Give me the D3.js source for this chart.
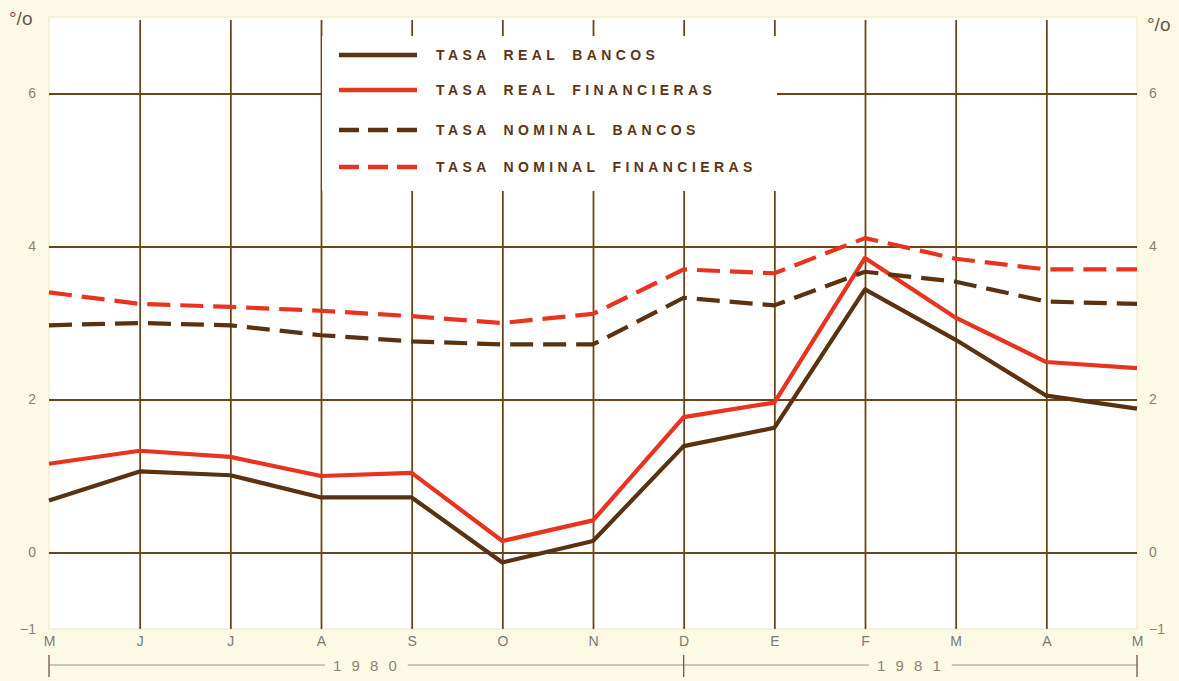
<!DOCTYPE html>
<html>
<head>
<meta charset="utf-8">
<script src="https://cdn.jsdelivr.net/npm/d3@7"></script>
<style>
  body { margin: 0; background: #fcf9e4; }
  #chart { width: 1179px; height: 681px; }
  text { font-family: "Liberation Sans", Arial, sans-serif; }
</style>
</head>
<body>
<div id="chart"></div>
<script>
//Datos (mayo 1980 - mayo 1981)
const meses = ['M', 'J', 'J', 'A', 'S', 'O', 'N', 'D', 'E', 'F', 'M', 'A', 'M'];
const realBancos = [0.68, 1.06, 1.01, 0.72, 0.72, -0.13, 0.15, 1.39, 1.63, 3.44, 2.78, 2.05, 1.88];
const realFinancieras = [1.16, 1.33, 1.25, 1.00, 1.04, 0.15, 0.42, 1.77, 1.96, 3.85, 3.07, 2.49, 2.41];
const nominalBancos = [2.97, 3.00, 2.97, 2.84, 2.76, 2.72, 2.72, 3.33, 3.23, 3.67, 3.54, 3.28, 3.25];
const nominalFinancieras = [3.40, 3.25, 3.21, 3.16, 3.09, 3.00, 3.12, 3.70, 3.65, 4.11, 3.84, 3.70, 3.70];
const yTicks = [-1, 0, 2, 4, 6];
const yGrid = [0, 2, 4, 6];
const anios = [{label: '1 9 8 0', from: 0, to: 7}, {label: '1 9 8 1', from: 7, to: 12}];

//Colores fijos
const COLOR_MARRON = '#5a3212',
COLOR_ROJO = '#e8341f',
COLOR_GRID = '#6a4518',
COLOR_TEXTO = '#8c8070';

const series = [
    {nombre: 'TASA REAL BANCOS', valores: realBancos, color: COLOR_MARRON, dash: null},
    {nombre: 'TASA REAL FINANCIERAS', valores: realFinancieras, color: COLOR_ROJO, dash: null},
    {nombre: 'TASA NOMINAL BANCOS', valores: nominalBancos, color: COLOR_MARRON, dash: '23,10'},
    {nombre: 'TASA NOMINAL FINANCIERAS', valores: nominalFinancieras, color: COLOR_ROJO, dash: '23,10'}
];

let margin = {top: 17, right: 42, bottom: 52, left: 49},
    width = 1179 - margin.left - margin.right,
    height = 681 - margin.top - margin.bottom;

let svg = d3.select('#chart')
    .append('svg')
        .attr('width', 1179)
        .attr('height', 681)
    .append('g')
        .attr('transform', 'translate(' + margin.left + ',' + margin.top + ')');

let x = d3.scaleLinear()
    .domain([0, meses.length - 1])
    .range([0, width]);

let y = d3.scaleLinear()
    .domain([-1, 7])
    .range([height, 0]);

//Fondo blanco del área
svg.append('rect')
    .attr('width', width)
    .attr('height', height)
    .attr('fill', '#ffffff')
    .attr('stroke', '#eee6c4')
    .attr('stroke-width', 1);

//Rejilla vertical
svg.append('g')
    .attr('class', 'grid-x')
    .call(d3.axisBottom(x).tickValues(d3.range(1, meses.length - 1)).tickSize(-(height - 3)).tickFormat(''))
    .attr('transform', 'translate(0,' + height + ')')
    .call(function(g){g.select('.domain').remove()})
    .call(function(g){g.selectAll('.tick line').attr('stroke', COLOR_GRID).attr('stroke-width', 1.8)});

//Rejilla horizontal
svg.append('g')
    .attr('class', 'grid-y')
    .call(d3.axisLeft(y).tickValues(yGrid).tickSize(-width).tickFormat(''))
    .call(function(g){g.select('.domain').remove()})
    .call(function(g){g.selectAll('.tick line').attr('stroke', COLOR_GRID).attr('stroke-width', 1.8)});

//Ejes Y (ambos lados)
let yAxisLeft = function(g) {
    g.call(d3.axisLeft(y).tickValues(yTicks).tickSize(0).tickPadding(13).tickFormat(function(d){ return d < 0 ? '\u2212' + Math.abs(d) : d; }));
    g.call(function(g){g.select('.domain').remove()});
    g.selectAll('.tick text').attr('fill', COLOR_TEXTO).attr('font-size', 14);
}
let yAxisRight = function(g) {
    g.call(d3.axisRight(y).tickValues(yTicks).tickSize(0).tickPadding(12).tickFormat(function(d){ return d < 0 ? '\u2212' + Math.abs(d) : d; }));
    g.call(function(g){g.select('.domain').remove()});
    g.selectAll('.tick text').attr('fill', COLOR_TEXTO).attr('font-size', 14);
}
svg.append('g').call(yAxisLeft);
svg.append('g').attr('transform', 'translate(' + width + ',0)').call(yAxisRight);

svg.append('text').attr('x', -40).attr('y', 8).attr('fill', '#6a5a4a').attr('font-size', 19).text('°/o');
svg.append('text').attr('x', width + 10).attr('y', 14).attr('fill', '#6a5a4a').attr('font-size', 19).text('°/o');

//Eje X meses
svg.append('g')
    .attr('transform', 'translate(0,' + height + ')')
    .call(d3.axisBottom(x).tickValues(d3.range(meses.length)).tickSize(0).tickPadding(7).tickFormat(function(i){ return meses[i]; }))
    .call(function(g){g.select('.domain').remove()})
    .call(function(g){g.selectAll('.tick text').attr('fill', '#7a7a78').attr('font-size', 14)});

//Años
let anioY = height + 36;
anios.forEach(function(a) {
    let x0 = x(a.from), x1 = x(a.to), xm = (x0 + x1) / 2;
    let g = svg.append('g');
    let t = g.append('text')
        .attr('x', xm)
        .attr('y', anioY + 6)
        .attr('text-anchor', 'middle')
        .attr('fill', '#8a8478')
        .attr('font-size', 15)
        .attr('letter-spacing', 3)
        .text(a.label);
    let w = t.node().getComputedTextLength() / 2 + 8;
    g.append('line').attr('x1', x0).attr('x2', xm - w).attr('y1', anioY).attr('y2', anioY).attr('stroke', '#9a9488').attr('stroke-width', 1);
    g.append('line').attr('x1', xm + w).attr('x2', x1).attr('y1', anioY).attr('y2', anioY).attr('stroke', '#9a9488').attr('stroke-width', 1);
});
[0, 7, 12].forEach(function(i) {
    svg.append('line')
        .attr('x1', x(i)).attr('x2', x(i))
        .attr('y1', anioY - 10).attr('y2', anioY + 12)
        .attr('stroke', '#6a5a48').attr('stroke-width', 1.3);
});

//Leyenda (tapa la rejilla)
let leyenda = svg.append('g').attr('transform', 'translate(' + (322 - margin.left) + ',' + (36 - margin.top) + ')');
leyenda.append('rect')
    .attr('width', 455)
    .attr('height', 155)
    .attr('fill', '#ffffff');

let filas = [19, 54, 94, 131];
series.forEach(function(s, i) {
    leyenda.append('line')
        .attr('x1', 17).attr('x2', 95)
        .attr('y1', filas[i]).attr('y2', filas[i])
        .attr('stroke', s.color)
        .attr('stroke-width', 4.5)
        .attr('stroke-dasharray', s.dash ? '20,9' : null);
    leyenda.append('text')
        .attr('x', 114)
        .attr('y', filas[i] + 5)
        .attr('fill', '#5a3614')
        .attr('font-size', 14)
        .attr('font-weight', 'bold')
        .attr('letter-spacing', 4.4)
        .attr('word-spacing', 5)
        .text(s.nombre);
});

//Líneas
let line = d3.line()
    .x(function(d, i) { return x(i); })
    .y(function(d) { return y(d); });

series.forEach(function(s) {
    svg.append('path')
        .datum(s.valores)
        .attr('fill', 'none')
        .attr('stroke', s.color)
        .attr('stroke-width', 4.2)
        .attr('stroke-linejoin', 'round')
        .attr('stroke-dasharray', s.dash)
        .attr('d', line);
});
</script>
</body>
</html>
